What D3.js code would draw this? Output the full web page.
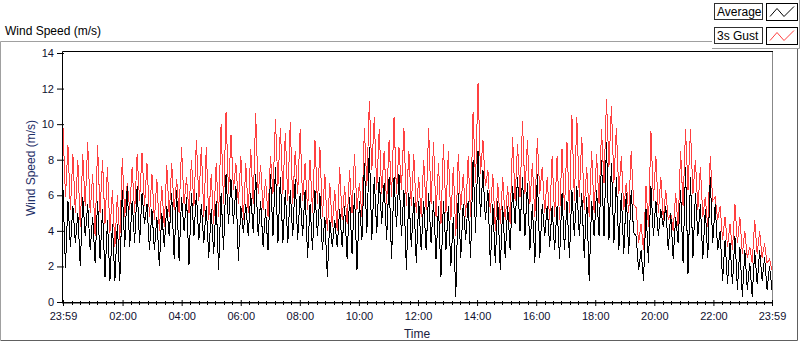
<!DOCTYPE html>
<html>
<head>
<meta charset="utf-8">
<script src="https://cdn.jsdelivr.net/npm/d3@7"></script>
<style>
  body { margin: 0; background: #ffffff; }
  text { font-family: "Liberation Sans", Arial, sans-serif; }
</style>
</head>
<body>
<div id="graphe"></div>
<script>
// fenetre de temps : 24 h a partir de 23:59
var debut = new Date(2013, 5, 10, 23, 59);
var fin = new Date(2013, 5, 11, 23, 59);
var heuresMajeures = [2, 4, 6, 8, 10, 12, 14, 16, 18, 20, 22];
var yTicks = [0, 2, 4, 6, 8, 10, 12, 14];
var noms = ["Average", "3s Gust"];
var couleurs = ["#000000", "#ff4040"];

// par tranche de 10 min : haut et bas de chaque trace
var avgHigh = [6.3, 5.7, 5.4, 5.0, 5.9, 5.5, 4.8, 5.7, 5.2, 4.6, 4.4, 4.4, 6.3, 6.5, 5.7, 6.5, 6.1, 5.5, 5.2, 4.8, 5.0, 5.4, 6.1, 6.3, 5.9,
  5.9, 6.1, 6.1, 5.5, 5.4, 5.2, 5.7, 6.1, 7.2, 6.9, 6.5, 5.4, 5.5, 6.1, 7.2, 5.7, 5.2, 7.2, 7.6, 7.0, 6.3, 6.3, 6.9, 6.1,
  6.3, 5.5, 6.3, 6.1, 4.8, 4.6, 4.6, 5.2, 5.4, 5.9, 6.1, 5.7, 7.8, 8.7, 7.0, 7.0, 6.7, 7.0, 7.0, 7.2, 6.3, 6.1, 5.9, 5.7, 5.7,
  6.1, 5.7, 5.4, 5.7, 5.4, 4.8, 6.1, 5.5, 5.7, 8.0, 8.5, 7.4, 6.3, 5.5, 5.7, 5.4, 5.4, 6.5, 7.0, 7.0, 6.7, 5.5, 7.2, 5.5,
  5.4, 5.4, 5.4, 6.1, 5.7, 6.3, 6.5, 6.1, 5.9, 5.7, 6.3, 8.0, 9.0, 7.8, 7.0, 6.1, 6.1, 6.3, 3.7, 2.9, 5.2, 6.5, 5.7, 5.2,
  5.4, 5.0, 4.8, 6.3, 7.6, 7.0, 6.1, 5.5, 5.2, 7.0, 5.5, 4.0, 3.5, 3.3, 3.7, 3.1, 2.9, 2.2, 2.9, 2.9, 2.5, 2.0];
var avgLow = [1.9, 3.1, 3.3, 2.0, 3.7, 2.9, 2.2, 2.4, 1.4, 1.2, 1.2, 1.2, 3.1, 3.1, 3.3, 3.3, 4.4, 2.9, 2.9, 2.0, 3.1, 3.7, 2.4, 2.3, 4.0,
  2.1, 3.7, 3.5, 3.3, 2.5, 2.7, 1.8, 2.9, 4.4, 4.4, 2.3, 3.9, 3.7, 3.9, 3.7, 3.1, 2.9, 3.7, 3.3, 3.3, 3.3, 3.7, 3.5, 3.7,
  2.5, 2.9, 3.7, 2.9, 1.4, 3.1, 3.1, 3.1, 2.4, 2.7, 1.8, 3.5, 3.9, 3.5, 3.9, 4.4, 3.5, 2.4, 4.2, 3.7, 1.8, 3.1, 2.2, 2.9, 2.9,
  3.3, 2.4, 1.4, 2.9, 2.0, 0.3, 2.5, 3.5, 2.5, 3.9, 4.8, 4.6, 2.0, 2.2, 1.8, 2.5, 2.9, 4.4, 4.0, 3.7, 2.9, 2.2, 2.5, 3.7,
  3.1, 2.9, 2.4, 2.9, 2.5, 3.7, 3.7, 2.5, 1.2, 3.7, 3.7, 3.7, 3.5, 3.3, 2.9, 2.7, 2.7, 3.9, 1.8, 1.2, 2.2, 3.7, 3.7, 4.2,
  2.9, 2.4, 3.3, 2.2, 1.6, 2.5, 3.7, 2.4, 2.5, 3.3, 2.9, 1.2, 1.0, 1.0, 0.7, 0.3, 0.7, 0.3, 1.0, 1.2, 0.7, 0.7];
var gustHigh = [9.8, 8.8, 8.3, 8.0, 8.3, 9.0, 7.2, 8.8, 8.0, 7.6, 6.3, 6.0, 8.1, 6.7, 7.6, 8.3, 8.4, 7.8, 7.2, 6.9, 6.5, 7.7, 7.8, 6.9, 8.7,
  7.0, 8.0, 9.1, 8.7, 8.7, 7.2, 7.8, 10.0, 10.7, 9.4, 7.8, 8.2, 7.8, 8.6, 10.6, 7.7, 6.9, 8.2, 10.3, 9.8, 9.5, 10.1, 8.5, 9.7,
  7.8, 8.0, 9.1, 8.7, 7.2, 6.7, 6.3, 7.6, 6.5, 7.4, 8.3, 6.7, 9.8, 11.3, 10.4, 9.7, 8.5, 9.1, 10.4, 8.7, 9.8, 8.5, 8.3, 7.0, 8.0,
  9.8, 9.0, 7.8, 8.9, 8.5, 7.6, 8.3, 7.2, 8.2, 10.7, 12.3, 9.1, 7.4, 7.2, 6.7, 7.0, 6.5, 9.3, 8.9, 10.2, 9.1, 7.8, 9.2, 7.6,
  7.0, 8.2, 8.2, 8.6, 9.0, 10.5, 10.4, 9.3, 7.6, 8.5, 8.3, 9.7, 11.4, 11.0, 9.8, 8.2, 6.7, 8.5, 5.3, 4.4, 6.5, 9.6, 8.2, 7.0,
  6.3, 5.0, 6.1, 8.5, 9.7, 9.7, 8.0, 7.6, 5.9, 8.2, 5.9, 5.4, 4.8, 4.4, 5.5, 4.8, 4.0, 3.1, 4.6, 4.0, 3.3, 2.4];
var gustLow = [5.9, 5.2, 5.0, 4.2, 5.4, 5.0, 3.7, 5.0, 4.4, 3.9, 3.1, 3.5, 4.8, 5.2, 5.0, 5.7, 5.4, 4.8, 4.6, 4.0, 4.2, 4.8, 5.2, 5.0, 5.5,
  5.0, 5.4, 5.7, 4.8, 4.6, 4.4, 4.8, 5.5, 6.1, 6.3, 5.5, 4.6, 5.0, 5.5, 6.1, 5.2, 4.8, 6.1, 6.5, 6.1, 5.7, 5.5, 6.1, 5.7,
  5.2, 5.0, 5.5, 4.8, 4.0, 4.2, 4.0, 4.6, 4.4, 5.0, 5.2, 4.8, 6.5, 7.4, 6.3, 6.1, 5.5, 5.9, 6.1, 6.3, 5.4, 5.4, 5.0, 4.8, 5.2,
  5.5, 4.8, 4.4, 5.0, 4.6, 3.7, 5.2, 4.8, 4.8, 6.7, 7.2, 6.5, 5.0, 4.0, 4.4, 4.6, 4.4, 5.7, 5.9, 6.1, 5.5, 4.8, 6.1, 5.0,
  4.6, 4.8, 4.6, 5.2, 5.0, 5.7, 5.9, 5.2, 4.8, 5.0, 5.5, 6.7, 7.6, 6.7, 6.1, 5.2, 5.0, 5.5, 3.3, 2.9, 4.2, 5.7, 5.0, 4.6,
  4.6, 4.0, 4.2, 5.4, 6.3, 6.1, 5.2, 4.8, 4.2, 5.7, 4.6, 3.5, 3.1, 2.9, 3.3, 2.7, 2.5, 2.2, 2.7, 2.5, 2.2, 1.8];

var svg = d3.select("#graphe").append("svg").attr("width", 800).attr("height", 342);

var x = d3.scaleTime().domain([debut, fin]).range([63, 772]);
var y = d3.scaleLinear().domain([0, 14]).range([302, 53]);

// cadre du panneau (style labview)
svg.append("path").attr("d", "M0.5,340 L0.5,41.5 L712,41.5").style("stroke", "#a0a0a0").style("fill", "none");
svg.append("path").attr("d", "M0.5,340.5 L797.5,340.5 L797.5,48").style("stroke", "#606060").style("fill", "none");

svg.append("text").attr("x", 5).attr("y", 35).style("font-size", "12px").style("fill", "#000").text("Wind Speed (m/s)");

// zone de trace
svg.append("rect").attr("x", 63).attr("y", 52).attr("width", 709).attr("height", 250).style("fill", "#ffffff");
svg.append("path").attr("d", "M772.5,52 L772.5,303.5 L62,303.5").style("stroke", "#888888").style("fill", "none");
svg.append("path").attr("d", "M62.5,302 L62.5,51.5 L773,51.5").style("stroke", "#000000").style("fill", "none");

// series : deux points par tranche (haut puis bas), repartis sur les 24 h
function serie(hauts, bas) {
  var pts = [];
  for (var k = 0; k < hauts.length; k++) {
    pts.push(hauts[k]);
    pts.push(bas[k]);
  }
  var pas = (fin - debut) / (pts.length - 1);
  return pts.map(function (v, i) { return { t: new Date(+debut + i * pas), v: v }; });
}

var ligne = d3.line().x(function (d) { return x(d.t); }).y(function (d) { return y(d.v); });

var donnees = [serie(avgHigh, avgLow), serie(gustHigh, gustLow)];
// la rafale d'abord, la moyenne par dessus
[1, 0].forEach(function (s) {
  svg.append("path")
    .datum(donnees[s])
    .attr("d", ligne)
    .style("fill", "none")
    .style("stroke", couleurs[s])
    .style("stroke-width", 1)
    .style("shape-rendering", "crispEdges");
});

// axe du temps
var majeurs = [debut].concat(heuresMajeures.map(function (h) { return new Date(2013, 5, 11, h, 0); })).concat([fin]);
var axeX = svg.append("g").attr("transform", "translate(0,302)")
  .call(d3.axisBottom(x).tickValues(majeurs).tickFormat(d3.timeFormat("%H:%M")).tickSize(4).tickSizeOuter(0).tickPadding(6));
axeX.select(".domain").attr("stroke", "#000");
axeX.selectAll(".tick line").attr("y1", -2);
axeX.selectAll("text").style("font-size", "11px").style("fill", "#101030").style("font-family", "Liberation Sans, Arial, sans-serif");

// petites graduations : 7 par tranche de 2 h
var mineurs = [];
var deuxH = new Date(2013, 5, 11, 2, 0);
for (var j = -7; j < 84; j++) {
  var t = new Date(+deuxH + j * 120 * 60000 / 7);
  if (t > debut && t < fin && j % 7 != 0) mineurs.push(t);
}
svg.append("g").selectAll("line").data(mineurs).enter().append("line")
  .attr("x1", function (d) { return Math.round(x(d)) + 0.5; })
  .attr("x2", function (d) { return Math.round(x(d)) + 0.5; })
  .attr("y1", 301).attr("y2", 305)
  .style("stroke", "#000");

// axe vertical
var axeY = svg.append("g").attr("transform", "translate(62,0)")
  .call(d3.axisLeft(y).tickValues(yTicks).tickSize(5).tickSizeOuter(0).tickPadding(3));
axeY.select(".domain").remove();
axeY.selectAll(".tick line").attr("x1", 2);
axeY.selectAll("text").style("font-size", "11px").style("fill", "#101030").style("font-family", "Liberation Sans, Arial, sans-serif");

svg.append("text").attr("transform", "translate(35,168) rotate(-90)").attr("text-anchor", "middle")
  .style("font-size", "12px").style("fill", "#1f3068").text("Wind Speed (m/s)");
svg.append("text").attr("x", 417).attr("y", 338).attr("text-anchor", "middle")
  .style("font-size", "12px").style("fill", "#1a2040").text("Time");

// legende en haut a droite
svg.append("path").attr("d", "M712,48.5 L799.5,48.5 L799.5,0").style("stroke", "#a0a0a0").style("fill", "none");
noms.forEach(function (nom, i) {
  var y0 = 3.5 + i * 24;
  svg.append("rect").attr("x", 714.5).attr("y", y0).attr("width", 48).attr("height", 16)
    .style("fill", "#ffffff").style("stroke", "#303030");
  svg.append("text").attr("x", 717).attr("y", y0 + 12.5).style("font-size", "12px").style("fill", "#000").text(nom);
  svg.append("rect").attr("x", 766.5).attr("y", y0).attr("width", 31).attr("height", 17)
    .style("fill", "#ffffff").style("stroke", "#000");
  svg.append("path").attr("d", "M770," + (y0 + 13) + " L777," + (y0 + 5) + " L784," + (y0 + 13) + " L794," + (y0 + 3))
    .style("stroke", couleurs[i]).style("fill", "none").style("stroke-width", 1);
});
</script>
</body>
</html>
